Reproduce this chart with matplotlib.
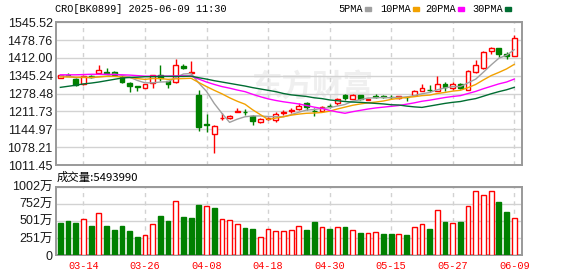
import matplotlib
matplotlib.use("Agg")
import matplotlib.pyplot as plt
from matplotlib.patches import Rectangle
import numpy as np

W, H = 578, 276

TITLE = "CRO[BK0899] 2025-06-09 11:30"
VOL_TITLE = "成交量:5493990"

DATES = [
    "03-11", "03-12", "03-13", "03-14", "03-17", "03-18", "03-19", "03-20", "03-21", "03-24",
    "03-25", "03-26", "03-27", "03-28", "03-31", "04-01", "04-02", "04-03", "04-07", "04-08",
    "04-09", "04-10", "04-11", "04-14", "04-15", "04-16", "04-17", "04-18", "04-21", "04-22",
    "04-23", "04-24", "04-25", "04-28", "04-29", "04-30", "05-06", "05-07", "05-08", "05-09",
    "05-12", "05-13", "05-14", "05-15", "05-16", "05-19", "05-20", "05-21", "05-22", "05-23",
    "05-26", "05-27", "05-28", "05-29", "05-30", "06-03", "06-04", "06-05", "06-06", "06-09",
]

OPEN = [
    1337, 1348, 1335, 1315, 1345, 1356, 1358, 1360, 1341, 1320,
    1306, 1301, 1317, 1348, 1324, 1322, 1383, 1357, 1275, 1166,
    1129, 1186, 1186, 1210, 1211, 1196, 1171, 1185, 1181, 1206,
    1214, 1222, 1243, 1215, 1212, 1234, 1242, 1273, 1259, 1272,
    1256, 1269, 1268, 1267, 1261, 1267, 1272, 1290, 1294, 1290,
    1316, 1301, 1316, 1294, 1361, 1373, 1438, 1448, 1427, 1421,
]
HIGH = [
    1348, 1354, 1337, 1348, 1350, 1386, 1373, 1362, 1347, 1322,
    1308, 1316, 1349, 1385, 1327, 1410, 1389, 1400, 1293, 1201,
    1160, 1207, 1197, 1226, 1221, 1199, 1186, 1190, 1211, 1217,
    1226, 1245, 1246, 1223, 1234, 1239, 1262, 1278, 1276, 1275,
    1260, 1278, 1272, 1273, 1271, 1268, 1293, 1316, 1309, 1343,
    1321, 1321, 1318, 1367, 1404, 1437, 1453, 1450, 1434, 1499,
]
LOW = [
    1336, 1343, 1308, 1312, 1338, 1354, 1351, 1348, 1319, 1284,
    1288, 1299, 1299, 1327, 1299, 1320, 1369, 1351, 1138, 1135,
    1057, 1181, 1183, 1209, 1199, 1161, 1168, 1180, 1174, 1199,
    1207, 1219, 1217, 1196, 1208, 1223, 1237, 1254, 1257, 1256,
    1254, 1261, 1262, 1258, 1258, 1251, 1270, 1287, 1284, 1288,
    1288, 1291, 1296, 1291, 1357, 1369, 1428, 1416, 1408, 1419,
]
CLOSE = [
    1347, 1346, 1311, 1346, 1342, 1367, 1356, 1350, 1321, 1307,
    1304, 1314, 1347, 1337, 1315, 1384, 1375, 1360, 1154, 1163,
    1159, 1188, 1193, 1213, 1208, 1177, 1184, 1187, 1202, 1209,
    1217, 1232, 1227, 1212, 1229, 1231, 1259, 1261, 1272, 1259,
    1257, 1267, 1266, 1265, 1268, 1265, 1290, 1301, 1292, 1315,
    1302, 1316, 1300, 1364, 1384, 1433, 1448, 1427, 1418, 1488,
]

MA5 = [
    1345, 1344, 1338, 1340, 1338, 1342, 1344, 1352, 1347, 1340,
    1328, 1319, 1319, 1322, 1323, 1339, 1352, 1354, 1318, 1287,
    1242, 1205, 1171, 1183, 1192, 1195, 1195, 1193, 1192, 1192,
    1200, 1209, 1217, 1219, 1223, 1226, 1232, 1238, 1250, 1256,
    1262, 1263, 1264, 1263, 1265, 1266, 1271, 1278, 1283, 1293,
    1300, 1305, 1305, 1319, 1333, 1359, 1386, 1411, 1422, 1443,
]
MA10 = [
    1341, 1341, 1340, 1339, 1339, 1341, 1343, 1343, 1341, 1339,
    1335, 1332, 1335, 1335, 1332, 1334, 1335, 1336, 1320, 1305,
    1291, 1278, 1263, 1250, 1239, 1218, 1200, 1182, 1187, 1192,
    1198, 1202, 1205, 1206, 1208, 1213, 1221, 1228, 1235, 1240,
    1244, 1247, 1251, 1257, 1261, 1264, 1267, 1271, 1273, 1279,
    1283, 1288, 1291, 1301, 1313, 1330, 1346, 1358, 1371, 1388,
]
MA20 = [
    1349, 1349, 1349, 1350, 1351, 1351, 1351, 1350, 1349, 1348,
    1346, 1344, 1344, 1344, 1344, 1345, 1345, 1344, 1333, 1322,
    1313, 1305, 1299, 1292, 1286, 1276, 1267, 1259, 1253, 1248,
    1244, 1240, 1234, 1228, 1223, 1216, 1210, 1205, 1211, 1216,
    1221, 1225, 1228, 1231, 1234, 1239, 1244, 1250, 1254, 1259,
    1264, 1268, 1271, 1279, 1287, 1297, 1306, 1315, 1322, 1333,
]
MA30 = [
    1302, 1306, 1310, 1315, 1318, 1322, 1327, 1332, 1337, 1339,
    1340, 1342, 1342, 1343, 1343, 1343, 1343, 1344, 1338, 1333,
    1327, 1322, 1317, 1312, 1307, 1301, 1296, 1291, 1286, 1279,
    1274, 1271, 1268, 1263, 1260, 1255, 1252, 1249, 1247, 1246,
    1244, 1242, 1240, 1237, 1236, 1232, 1229, 1227, 1232, 1237,
    1242, 1246, 1249, 1255, 1260, 1269, 1278, 1286, 1293, 1302,
]

# volume in 万 shares, colour follows close vs previous close
VOLUME = [
    474, 499, 474, 523, 425, 611, 425, 367, 425, 352,
    264, 288, 455, 572, 499, 787, 557, 543, 733, 719,
    689, 523, 508, 450, 396, 381, 259, 376, 352, 352,
    362, 420, 367, 484, 406, 381, 406, 411, 362, 323,
    318, 337, 308, 308, 303, 293, 406, 450, 381, 655,
    484, 464, 484, 714, 934, 880, 934, 777, 631, 549.4,
]
VOL_UP = [
    0, 0, 0, 1, 0, 1, 0, 0, 0, 0,
    0, 1, 1, 0, 0, 1, 0, 0, 0, 1,
    0, 1, 1, 1, 0, 0, 1, 1, 1, 1,
    1, 1, 0, 0, 1, 0, 1, 0, 1, 0,
    1, 1, 0, 0, 1, 0, 1, 1, 0, 1,
    0, 1, 0, 1, 1, 1, 1, 0, 0, 1,
]

PRICE_TICKS = [1011.45, 1078.21, 1144.97, 1211.73, 1278.48, 1345.24, 1412.00, 1478.76, 1545.52]
VOL_TICKS = [0, 250.5, 501, 751.5, 1002]
VOL_LABELS = ["0", "251万", "501万", "752万", "1002万"]

MA_NAMES = ["5PMA", "10PMA", "20PMA", "30PMA"]
MA_COLORS = ["#a0a0a0", "#f2a100", "#ff00ff", "#006d32"]

RED = "#ff0000"
GREEN = "#008000"
GRID = "#d2d2d2"
BORDER = "#999999"
MONO = "Liberation Mono"
SANS = ["Liberation Sans", "Noto Sans CJK SC"]


def style_axes(ax, label_idx):
    for s in ax.spines.values():
        s.set_color(BORDER)
        s.set_linewidth(1.4)
    ax.set_xlim(-0.63, len(DATES) + 0.05)
    ax.set_xticks(label_idx)
    ax.grid(axis="x", color=GRID, lw=1, ls=(0, (3, 3)))
    ax.grid(axis="y", color=GRID, lw=1, ls="-")
    ax.set_axisbelow(True)
    ax.tick_params(length=0, pad=2, labelsize=9, labelcolor="#1a1a1a")


def main() -> None:
    x = np.arange(len(DATES))
    o, h, l, c = map(np.array, (OPEN, HIGH, LOW, CLOSE))
    up = c >= o
    label_idx = list(range(3, len(DATES), 8))

    fig = plt.figure(figsize=(W / 100, H / 100), dpi=100)
    ax = fig.add_axes([55.5 / W, 1 - 165 / H, 466.8 / W, 142.7 / H])
    axv = fig.add_axes([55.5 / W, 1 - 255 / H, 466.8 / W, 68.3 / H])

    # ---- price panel ----
    style_axes(ax, label_idx)
    ax.set_ylim(PRICE_TICKS[0], PRICE_TICKS[-1])
    ax.set_yticks(PRICE_TICKS)
    ax.set_yticklabels([f"{v:.2f}" for v in PRICE_TICKS], family=SANS)
    ax.set_xticklabels([])

    ax.text(0.55, 0.55, "东方财富", transform=ax.transAxes, ha="center", va="center",
            fontsize=22, color="#efefef", family="Noto Sans CJK SC", weight="bold",
            zorder=0.5)

    wick_col = np.where(up, RED, GREEN)
    ax.vlines(x, l, h, colors=wick_col, lw=1, zorder=2)
    ax.bar(x, np.abs(c - o), bottom=np.minimum(o, c), width=0.62,
           color=np.where(up, "white", GREEN), edgecolor=wick_col, lw=1, zorder=3)

    for vals, col in zip([MA5, MA10, MA20, MA30], MA_COLORS):
        ax.plot(x, vals, color=col, lw=1, zorder=4)

    # ---- volume panel ----
    style_axes(axv, label_idx)
    axv.set_ylim(0, VOL_TICKS[-1])
    axv.set_yticks(VOL_TICKS)
    axv.set_yticklabels(VOL_LABELS, family=SANS)
    axv.set_xticklabels([DATES[i] for i in label_idx], family=MONO, fontsize=7.4,
                        color=RED)
    axv.tick_params(axis="x", pad=4)
    vol_up = np.array(VOL_UP, dtype=bool)
    axv.bar(x, VOLUME, width=0.62, color=np.where(vol_up, "white", GREEN),
            edgecolor=np.where(vol_up, RED, GREEN), lw=1, zorder=3)

    # ---- header texts ----
    fig.text(55 / W, 1 - 9 / H, TITLE, family=MONO, fontsize=7.4, va="center")
    fig.text(57 / W, 1 - 177 / H, VOL_TITLE, family="Noto Sans CJK SC",
             fontsize=8.2, va="center")

    lx = [338, 380, 425, 472]
    for name, col, px in zip(MA_NAMES, MA_COLORS, lx):
        fig.text(px / W, 1 - 9 / H, name, family=MONO, fontsize=7.4, va="center")
        tw = len(name) * 6.2
        fig.add_artist(Rectangle(((px + tw + 2) / W, 1 - 11 / H), 6 / W, 4 / H,
                                 transform=fig.transFigure, color=col))

    fig.savefig("out.png", dpi=100)
    plt.close(fig)


if __name__ == "__main__":
    main()
